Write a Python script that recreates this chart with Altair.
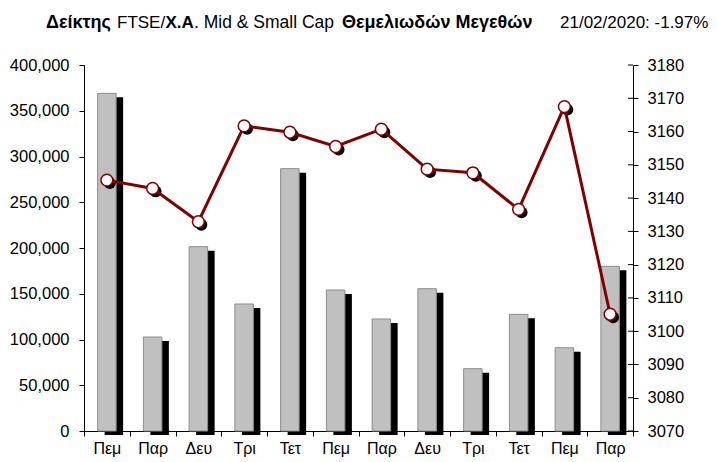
import altair as alt
import pandas as pd

days = ["Πεμ", "Παρ", "Δευ", "Τρι", "Τετ", "Πεμ", "Παρ", "Δευ", "Τρι", "Τετ", "Πεμ", "Παρ"]
volume = [369000, 102700, 201400, 138800, 286700, 154100, 122400, 155500, 68100, 127500, 91000, 180000]
index_close = [3145.4, 3142.9, 3132.9, 3161.7, 3159.8, 3155.5, 3160.7, 3148.7, 3147.6, 3136.6, 3167.5, 3105.1]
left_ticks = list(range(0, 400001, 50000))
right_ticks = list(range(3070, 3181, 10))

df = pd.DataFrame({"i": list(range(len(days))), "day": days, "vol": volume, "idx": index_close})
tick_df = pd.DataFrame({"idx": right_ticks})

FONT = "Liberation Sans"
W, H = 549, 366

label_expr = "[" + ",".join(f"'{d}'" for d in days) + "][datum.value]"

x_enc = alt.X(
    "i:O",
    scale=alt.Scale(paddingInner=0, paddingOuter=0),
    axis=alt.Axis(title=None, labelExpr=label_expr, labelAngle=0, tickBand="extent",
                  domainColor="black", tickColor="black", tickSize=5, labelFontSize=16,
                  labelColor="black", labelFont=FONT, labelPadding=4),
)

y_bar = alt.Y(
    "vol:Q",
    scale=alt.Scale(domain=[0, 400000], nice=False, zero=True),
    axis=alt.Axis(title=None, orient="left", values=left_ticks, format=",d",
                  domainColor="black", tickColor="black", tickSize=5, labelFontSize=16.5,
                  labelColor="black", labelFont=FONT, labelPadding=10),
)

y_line = alt.Y(
    "idx:Q",
    scale=alt.Scale(domain=[3070, 3180], nice=False, zero=False),
    axis=alt.Axis(title=None, orient="right", values=right_ticks, format="d",
                  domainColor="black", tickColor="black", tickSize=5, labelFontSize=16.5,
                  labelColor="black", labelFont=FONT, labelPadding=9),
)

bar_shadow = alt.Chart(df).mark_bar(size=18.5, color="black", xOffset=7, yOffset=4, y2Offset=4).encode(
    x=x_enc, y=y_bar)
bars = alt.Chart(df).mark_bar(size=18.5, color="#C0C0C0", stroke="#8c8c8c", strokeWidth=1).encode(
    x=x_enc, y=y_bar)

inner_ticks = alt.Chart(tick_df).mark_rule(color="black", strokeWidth=1).encode(
    y=y_line, x=alt.value(W - 5), x2=alt.value(W))
pt_shadow = alt.Chart(df).mark_circle(color="black", size=140, opacity=1, xOffset=3, yOffset=3).encode(
    x=x_enc, y=y_line)
line = alt.Chart(df).mark_line(color="#800000", strokeWidth=3).encode(x=x_enc, y=y_line)
pts = alt.Chart(df).mark_circle(color="white", stroke="#800000", strokeWidth=1.5, size=140, opacity=1).encode(
    x=x_enc, y=y_line)

one = alt.Data(values=[{"a": 1}])
title_parts = [
    ("Δείκτης", "bold", 18, -38),
    ("FTSE/", "normal", 17, 33),
    ("Χ.Α", "bold", 17, 81.5),
    (". Mid & Small Cap", "normal", 17.5, 110),
    ("Θεμελιωδών Μεγεθών", "bold", 18, 258),
    ("21/02/2020: -1.97%", "normal", 17, 476),
]
titles = [
    alt.Chart(one).mark_text(text=t, font=FONT, fontSize=fs, fontWeight=w, align="left",
                             baseline="alphabetic", color="black").encode(x=alt.value(px), y=alt.value(-37))
    for t, w, fs, px in title_parts
]

left_layer = alt.layer(bar_shadow, bars)
right_layer = alt.layer(pt_shadow, line, pts, inner_ticks)

chart = alt.layer(left_layer, right_layer, *titles).resolve_scale(y="independent").properties(
    width=W, height=H,
    padding={"left": 76, "top": 57, "right": 76, "bottom": 27},
    autosize=alt.AutoSizeParams(type="none"),
).configure_view(stroke=None).configure_axis(grid=False)

chart.save("out.html", embed_options={"renderer": "svg", "actions": False})
